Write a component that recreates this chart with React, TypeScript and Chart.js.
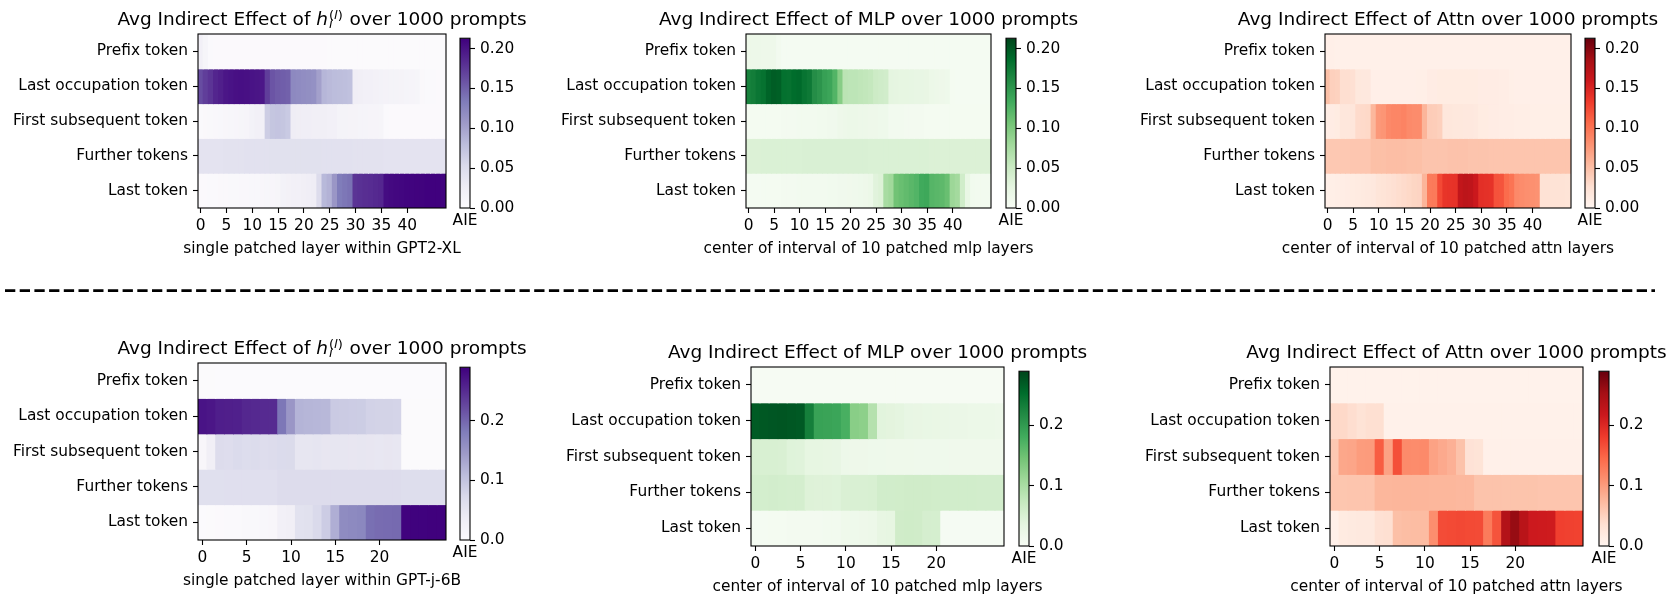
import React, { useEffect, useRef } from "react";
import { Chart, registerables } from "chart.js";

Chart.register(...registerables);

const FONT = "'DejaVu Sans', 'Noto Sans', sans-serif";
const TICK_SIZE = 15.4;
const TITLE_SIZE = 18.5;
Chart.defaults.font.family = FONT;
Chart.defaults.color = "#000";

// ---------------- categories / tick labels ----------------
const ROW_LABELS = ["Prefix token", "Last occupation token", "First subsequent token", "Further tokens", "Last token"];
const ROW_CENTERS = [0.5, 1.5, 2.5, 3.5, 4.5];
const GPT2_LAYERS = [0,1,2,3,4,5,6,7,8,9,10,11,12,13,14,15,16,17,18,19,20,21,22,23,24,25,26,27,28,29,30,31,32,33,34,35,36,37,38,39,40,41,42,43,44,45,46,47];
const GPTJ_LAYERS = [0,1,2,3,4,5,6,7,8,9,10,11,12,13,14,15,16,17,18,19,20,21,22,23,24,25,26,27];
const GPT2_XTICKS = [0, 5, 10, 15, 20, 25, 30, 35, 40];
const GPTJ_XTICKS = [0, 5, 10, 15, 20];
const TOP_CB_TICKS = [0, 0.05, 0.1, 0.15, 0.2];
const BOTTOM_CB_TICKS = [0, 0.1, 0.2];
const TOP_VMAX = 0.213;
const BOTTOM_VMAX = 0.29;

// ---------------- GPT2-XL : hidden states ----------------
const TL_PREFIX = [0.020,0.012,0.004,0.003,0.003,0.003,0.003,0.003,0.003,0.003,0.003,0.003,0.003,0.003,0.003,0.003,0.003,0.003,0.003,0.003,0.003,0.003,0.003,0.003,0.003,0.002,0.002,0.002,0.002,0.002,0.002,0.002,0.002,0.002,0.002,0.002,0.002,0.002,0.002,0.002,0.002,0.002,0.002,0.002,0.002,0.002,0.002,0.002];
const TL_LASTOCC = [0.163,0.172,0.178,0.188,0.192,0.198,0.200,0.202,0.203,0.202,0.200,0.199,0.197,0.172,0.158,0.154,0.152,0.150,0.122,0.120,0.118,0.117,0.115,0.102,0.085,0.082,0.080,0.079,0.078,0.076,0.024,0.022,0.021,0.020,0.019,0.018,0.017,0.016,0.016,0.015,0.014,0.013,0.012,0.005,0.004,0.004,0.003,0.003];
const TL_FIRSTSUB = [0.004,0.005,0.006,0.007,0.008,0.009,0.010,0.011,0.012,0.013,0.018,0.020,0.021,0.065,0.072,0.073,0.072,0.068,0.026,0.025,0.024,0.024,0.023,0.022,0.022,0.021,0.021,0.016,0.016,0.015,0.015,0.014,0.014,0.013,0.013,0.012,0.004,0.003,0.003,0.003,0.003,0.003,0.003,0.003,0.003,0.003,0.003,0.003];
const TL_FURTHER = [0.040,0.040,0.041,0.041,0.041,0.042,0.042,0.042,0.042,0.043,0.043,0.043,0.043,0.043,0.044,0.044,0.044,0.044,0.044,0.044,0.044,0.044,0.044,0.044,0.043,0.043,0.043,0.043,0.043,0.043,0.042,0.042,0.042,0.042,0.042,0.042,0.041,0.041,0.041,0.041,0.041,0.041,0.041,0.041,0.040,0.040,0.040,0.040];
const TL_LAST = [0.003,0.003,0.004,0.004,0.005,0.005,0.006,0.006,0.007,0.007,0.008,0.008,0.009,0.010,0.011,0.012,0.018,0.019,0.020,0.021,0.022,0.024,0.026,0.050,0.083,0.088,0.110,0.133,0.137,0.140,0.178,0.180,0.182,0.183,0.185,0.187,0.205,0.207,0.208,0.209,0.210,0.210,0.211,0.211,0.212,0.212,0.212,0.211];

// ---------------- GPT2-XL : MLP ----------------
const TM_PREFIX = [0.015,0.015,0.015,0.014,0.014,0.014,0.008,0.004,0.004,0.004,0.004,0.004,0.004,0.004,0.004,0.004,0.004,0.004,0.004,0.004,0.004,0.004,0.004,0.004,0.004,0.004,0.004,0.004,0.004,0.004,0.004,0.004,0.004,0.004,0.004,0.004,0.004,0.004,0.004,0.004,0.004,0.004,0.004,0.004,0.004,0.004,0.004,0.004];
const TM_LASTOCC = [0.168,0.172,0.178,0.182,0.192,0.197,0.195,0.183,0.182,0.186,0.188,0.180,0.176,0.158,0.152,0.142,0.138,0.124,0.095,0.062,0.060,0.060,0.058,0.057,0.055,0.048,0.046,0.044,0.026,0.025,0.024,0.024,0.023,0.022,0.022,0.021,0.016,0.015,0.014,0.013,0.005,0.004,0.004,0.004,0.004,0.004,0.004,0.004];
const TM_FIRSTSUB = [0.005,0.005,0.005,0.005,0.005,0.005,0.005,0.006,0.006,0.006,0.007,0.007,0.008,0.008,0.009,0.009,0.010,0.010,0.014,0.015,0.016,0.016,0.015,0.015,0.014,0.014,0.013,0.013,0.008,0.007,0.007,0.006,0.006,0.006,0.006,0.005,0.005,0.005,0.005,0.005,0.005,0.005,0.005,0.005,0.005,0.005,0.005,0.005];
const TM_FURTHER = [0.035,0.035,0.035,0.036,0.036,0.036,0.036,0.036,0.036,0.036,0.036,0.037,0.037,0.037,0.037,0.037,0.037,0.037,0.037,0.037,0.037,0.037,0.037,0.037,0.036,0.036,0.036,0.036,0.036,0.036,0.036,0.036,0.036,0.036,0.036,0.036,0.035,0.035,0.035,0.035,0.035,0.035,0.035,0.035,0.035,0.035,0.035,0.035];
const TM_LAST = [0.004,0.004,0.004,0.005,0.005,0.005,0.005,0.006,0.006,0.006,0.007,0.007,0.007,0.008,0.008,0.008,0.009,0.009,0.010,0.010,0.011,0.012,0.013,0.014,0.016,0.030,0.034,0.075,0.080,0.108,0.112,0.116,0.120,0.124,0.134,0.136,0.122,0.120,0.118,0.112,0.082,0.078,0.045,0.020,0.009,0.008,0.008,0.007];

// ---------------- GPT2-XL : Attn ----------------
const TR_PREFIX = [0.007,0.007,0.006,0.006,0.006,0.006,0.006,0.006,0.006,0.006,0.006,0.006,0.006,0.006,0.006,0.006,0.006,0.006,0.006,0.006,0.006,0.006,0.006,0.006,0.006,0.006,0.006,0.006,0.006,0.006,0.006,0.006,0.006,0.006,0.006,0.006,0.006,0.006,0.006,0.006,0.006,0.006,0.006,0.006,0.006,0.006,0.006,0.006];
const TR_LASTOCC = [0.050,0.038,0.037,0.027,0.027,0.026,0.017,0.016,0.016,0.007,0.007,0.007,0.007,0.007,0.007,0.007,0.007,0.007,0.008,0.008,0.011,0.011,0.012,0.012,0.012,0.012,0.012,0.012,0.012,0.012,0.011,0.011,0.011,0.011,0.010,0.010,0.008,0.007,0.007,0.007,0.007,0.007,0.007,0.007,0.007,0.007,0.007,0.007];
const TR_FIRSTSUB = [0.010,0.011,0.012,0.018,0.018,0.019,0.030,0.031,0.032,0.056,0.076,0.078,0.086,0.088,0.088,0.090,0.085,0.084,0.084,0.057,0.041,0.040,0.038,0.018,0.018,0.017,0.017,0.016,0.016,0.015,0.012,0.012,0.011,0.011,0.010,0.010,0.010,0.009,0.009,0.009,0.008,0.008,0.008,0.008,0.008,0.008,0.008,0.008];
const TR_FURTHER = [0.044,0.044,0.044,0.044,0.044,0.045,0.045,0.045,0.045,0.050,0.050,0.050,0.051,0.051,0.051,0.051,0.050,0.050,0.050,0.047,0.047,0.047,0.047,0.047,0.048,0.048,0.048,0.048,0.047,0.047,0.047,0.047,0.046,0.046,0.046,0.046,0.046,0.046,0.046,0.046,0.046,0.046,0.046,0.046,0.046,0.046,0.046,0.046];
const TR_LAST = [0.007,0.008,0.009,0.010,0.011,0.012,0.013,0.014,0.015,0.016,0.020,0.022,0.024,0.026,0.028,0.030,0.032,0.034,0.035,0.057,0.095,0.096,0.125,0.138,0.139,0.140,0.166,0.170,0.168,0.160,0.142,0.141,0.140,0.120,0.119,0.105,0.100,0.086,0.084,0.082,0.081,0.080,0.024,0.024,0.023,0.023,0.023,0.022];

// ---------------- GPT-j-6B : hidden states ----------------
const BL_PREFIX = [0.003,0.003,0.002,0.002,0.002,0.002,0.002,0.002,0.002,0.002,0.002,0.002,0.002,0.002,0.002,0.002,0.002,0.002,0.002,0.002,0.002,0.002,0.002,0.002,0.002,0.002,0.002,0.002];
const BL_LASTOCC = [0.272,0.270,0.262,0.261,0.260,0.254,0.252,0.251,0.250,0.186,0.150,0.118,0.116,0.115,0.114,0.092,0.091,0.090,0.089,0.082,0.081,0.081,0.080,0.003,0.003,0.003,0.003,0.003];
const BL_FIRSTSUB = [0.012,0.032,0.068,0.066,0.070,0.067,0.069,0.066,0.068,0.070,0.071,0.050,0.050,0.051,0.049,0.050,0.050,0.049,0.050,0.049,0.048,0.049,0.048,0.003,0.003,0.003,0.003,0.003];
const BL_FURTHER = [0.062,0.062,0.062,0.063,0.063,0.063,0.063,0.063,0.063,0.068,0.068,0.068,0.068,0.068,0.068,0.068,0.068,0.068,0.068,0.068,0.068,0.068,0.068,0.065,0.065,0.065,0.065,0.065];
const BL_LAST = [0.002,0.003,0.004,0.005,0.006,0.007,0.008,0.010,0.012,0.028,0.032,0.058,0.060,0.072,0.090,0.124,0.163,0.165,0.168,0.192,0.195,0.196,0.197,0.287,0.288,0.288,0.289,0.289];

// ---------------- GPT-j-6B : MLP ----------------
const BM_PREFIX = [0.003,0.003,0.003,0.003,0.003,0.003,0.003,0.003,0.003,0.003,0.003,0.003,0.003,0.003,0.003,0.003,0.003,0.003,0.003,0.003,0.003,0.003,0.003,0.003,0.003,0.003,0.003,0.003];
const BM_LASTOCC = [0.270,0.272,0.274,0.275,0.273,0.271,0.232,0.192,0.190,0.188,0.176,0.128,0.125,0.090,0.040,0.038,0.036,0.030,0.029,0.028,0.027,0.026,0.025,0.024,0.023,0.022,0.022,0.021];
const BM_FIRSTSUB = [0.053,0.052,0.052,0.051,0.043,0.042,0.033,0.032,0.031,0.030,0.020,0.019,0.019,0.018,0.018,0.017,0.017,0.017,0.016,0.016,0.016,0.016,0.015,0.015,0.015,0.015,0.015,0.015];
const BM_FURTHER = [0.058,0.058,0.059,0.058,0.057,0.057,0.045,0.044,0.044,0.043,0.050,0.051,0.051,0.052,0.060,0.060,0.061,0.062,0.062,0.062,0.061,0.060,0.060,0.060,0.060,0.059,0.059,0.059];
const BM_LAST = [0.006,0.006,0.007,0.007,0.008,0.008,0.009,0.009,0.010,0.010,0.017,0.018,0.019,0.020,0.031,0.033,0.062,0.063,0.062,0.056,0.055,0.004,0.004,0.004,0.004,0.004,0.004,0.004];

// ---------------- GPT-j-6B : Attn ----------------
const BR_PREFIX = [0.006,0.006,0.006,0.006,0.006,0.006,0.006,0.006,0.006,0.006,0.006,0.006,0.006,0.006,0.006,0.006,0.006,0.006,0.006,0.006,0.006,0.006,0.006,0.006,0.006,0.006,0.006,0.006];
const BR_LASTOCC = [0.043,0.043,0.038,0.031,0.036,0.036,0.007,0.007,0.007,0.007,0.007,0.007,0.007,0.007,0.007,0.007,0.007,0.007,0.007,0.007,0.007,0.007,0.007,0.007,0.007,0.007,0.007,0.007];
const BR_FIRSTSUB = [0.060,0.090,0.092,0.100,0.101,0.155,0.095,0.165,0.115,0.114,0.116,0.095,0.088,0.082,0.066,0.032,0.030,0.008,0.008,0.008,0.008,0.008,0.008,0.008,0.008,0.008,0.008,0.008];
const BR_FURTHER = [0.062,0.062,0.063,0.063,0.063,0.076,0.076,0.077,0.077,0.077,0.077,0.076,0.076,0.076,0.075,0.075,0.065,0.065,0.065,0.064,0.064,0.064,0.064,0.063,0.063,0.063,0.063,0.063];
const BR_LAST = [0.008,0.018,0.019,0.020,0.021,0.034,0.036,0.068,0.070,0.071,0.072,0.112,0.168,0.170,0.171,0.170,0.169,0.130,0.162,0.240,0.262,0.235,0.216,0.215,0.214,0.178,0.177,0.176];

// ---------------- colormaps (matplotlib Purples / Greens / Reds) ----------------
const PURPLES = ["#fcfbfd", "#efedf5", "#dadaeb", "#bcbddc", "#9e9ac8", "#807dba", "#6a51a3", "#54278f", "#3f007d"];
const GREENS = ["#f7fcf5", "#e5f5e0", "#c7e9c0", "#a1d99b", "#74c476", "#41ab5d", "#238b45", "#006d2c", "#00441b"];
const REDS = ["#fff5f0", "#fee0d2", "#fcbba1", "#fc9272", "#fb6a4a", "#ef3b2c", "#cb181d", "#a50f15", "#67000d"];

function hexToRgb(h: string): number[] {
  return [parseInt(h.slice(1, 3), 16), parseInt(h.slice(3, 5), 16), parseInt(h.slice(5, 7), 16)];
}
function colorAt(stops: string[], v: number, vmax: number): string {
  const t = Math.max(0, Math.min(1, v / vmax)) * (stops.length - 1);
  const i = Math.min(Math.floor(t), stops.length - 2);
  const f = t - i;
  const a = hexToRgb(stops[i]);
  const b = hexToRgb(stops[i + 1]);
  const c = a.map((x, k) => Math.round(x + (b[k] - x) * f));
  return `rgb(${c[0]},${c[1]},${c[2]})`;
}

// ---------------- titles ----------------
type Seg = { text: string; italic?: boolean; scale?: number; dy?: number; advance?: boolean; gap?: number };
const H_TITLE: Seg[] = [
  { text: "Avg Indirect Effect of " },
  { text: "h", italic: true, gap: 1 },
  { text: "i", italic: true, scale: 0.7, dy: 3.5, advance: false },
  { text: "(", scale: 0.7, dy: -6 },
  { text: "l", italic: true, scale: 0.7, dy: -6 },
  { text: ")", scale: 0.7, dy: -6, gap: 1 },
  { text: " over 1000 prompts" },
];
const MLP_TITLE: Seg[] = [{ text: "Avg Indirect Effect of MLP over 1000 prompts" }];
const ATTN_TITLE: Seg[] = [{ text: "Avg Indirect Effect of Attn over 1000 prompts" }];

function makeTitlePlugin(segs: Seg[]) {
  return {
    id: "mplTitle",
    afterDraw(chart: any) {
      const ctx = chart.ctx;
      const a = chart.chartArea;
      ctx.save();
      const fontFor = (s: Seg) => `${s.italic ? "italic " : ""}${(s.scale || 1) * TITLE_SIZE}px ${FONT}`;
      const widths = segs.map((s) => {
        ctx.font = fontFor(s);
        return ctx.measureText(s.text).width;
      });
      let total = 0;
      segs.forEach((s, i) => {
        if (s.advance !== false) total += widths[i] + (s.gap || 0);
      });
      let x = (a.left + a.right) / 2 - total / 2;
      const baseY = a.top - 9.5;
      ctx.fillStyle = "#000";
      ctx.textAlign = "left";
      ctx.textBaseline = "alphabetic";
      segs.forEach((s, i) => {
        ctx.font = fontFor(s);
        ctx.fillText(s.text, x, baseY + (s.dy || 0));
        if (s.advance !== false) x += widths[i] + (s.gap || 0);
      });
      ctx.restore();
    },
  };
}

// axis label drawn centred under the plot area, without width squeezing
function makeBottomLabelPlugin(text: string, dy: number) {
  return {
    id: "bottomLabel",
    afterDraw(chart: any) {
      const ctx = chart.ctx;
      const a = chart.chartArea;
      ctx.save();
      ctx.font = `${TICK_SIZE}px ${FONT}`;
      ctx.fillStyle = "#000";
      ctx.textAlign = "center";
      ctx.textBaseline = "middle";
      ctx.fillText(text, (a.left + a.right) / 2, a.bottom + dy);
      ctx.restore();
    },
  };
}

const framePlugin = {
  id: "frame",
  afterDraw(chart: any) {
    const { ctx, chartArea: a } = chart;
    ctx.save();
    ctx.strokeStyle = "#000";
    ctx.lineWidth = 1.1;
    ctx.strokeRect(a.left, a.top, a.right - a.left, a.bottom - a.top);
    ctx.restore();
  },
};

// ---------------- panels ----------------
type Panel = {
  rows: number[][];
  layers: number[];
  xticks: number[];
  cmap: string[];
  vmax: number;
  title: Seg[];
  xTitle: string;
  ax: number[];
  cb: number[];
  cbTicks: number[];
  cbDec: number;
};

const PANELS: Panel[] = [
  { rows: [TL_PREFIX, TL_LASTOCC, TL_FIRSTSUB, TL_FURTHER, TL_LAST], layers: GPT2_LAYERS, xticks: GPT2_XTICKS, cmap: PURPLES, vmax: TOP_VMAX, title: H_TITLE, xTitle: "single patched layer within GPT2-XL", ax: [198, 34, 446, 208], cb: [460, 470], cbTicks: TOP_CB_TICKS, cbDec: 2 },
  { rows: [TM_PREFIX, TM_LASTOCC, TM_FIRSTSUB, TM_FURTHER, TM_LAST], layers: GPT2_LAYERS, xticks: GPT2_XTICKS, cmap: GREENS, vmax: TOP_VMAX, title: MLP_TITLE, xTitle: "center of interval of 10 patched mlp layers", ax: [746, 34, 991, 208], cb: [1006, 1016], cbTicks: TOP_CB_TICKS, cbDec: 2 },
  { rows: [TR_PREFIX, TR_LASTOCC, TR_FIRSTSUB, TR_FURTHER, TR_LAST], layers: GPT2_LAYERS, xticks: GPT2_XTICKS, cmap: REDS, vmax: TOP_VMAX, title: ATTN_TITLE, xTitle: "center of interval of 10 patched attn layers", ax: [1325, 34, 1571, 208], cb: [1585, 1595], cbTicks: TOP_CB_TICKS, cbDec: 2 },
  { rows: [BL_PREFIX, BL_LASTOCC, BL_FIRSTSUB, BL_FURTHER, BL_LAST], layers: GPTJ_LAYERS, xticks: GPTJ_XTICKS, cmap: PURPLES, vmax: BOTTOM_VMAX, title: H_TITLE, xTitle: "single patched layer within GPT-j-6B", ax: [198, 363, 446, 540], cb: [460, 470], cbTicks: BOTTOM_CB_TICKS, cbDec: 1 },
  { rows: [BM_PREFIX, BM_LASTOCC, BM_FIRSTSUB, BM_FURTHER, BM_LAST], layers: GPTJ_LAYERS, xticks: GPTJ_XTICKS, cmap: GREENS, vmax: BOTTOM_VMAX, title: MLP_TITLE, xTitle: "center of interval of 10 patched mlp layers", ax: [751, 367, 1004, 546], cb: [1019, 1029], cbTicks: BOTTOM_CB_TICKS, cbDec: 1 },
  { rows: [BR_PREFIX, BR_LASTOCC, BR_FIRSTSUB, BR_FURTHER, BR_LAST], layers: GPTJ_LAYERS, xticks: GPTJ_XTICKS, cmap: REDS, vmax: BOTTOM_VMAX, title: ATTN_TITLE, xTitle: "center of interval of 10 patched attn layers", ax: [1330, 367, 1583, 546], cb: [1599, 1609], cbTicks: BOTTOM_CB_TICKS, cbDec: 1 },
];

const Y_AXIS_W = 195;
const PAD_TOP = 34;
const X_AXIS_H = 55;
const X_TITLE_DY = 41.3;
const CB_PAD_L = 14;
const CB_PAD_R = 60;
const CB_PAD_T = 10;
const CB_X_H = 30;
const AIE_DY = 13;

function Heatmap({ p }: { p: Panel }) {
  const ref = useRef<HTMLCanvasElement | null>(null);
  const [x0, y0, x1, y1] = p.ax;
  const padR = Math.min(105, 1680 - x1);
  const W = Y_AXIS_W + (x1 - x0) + padR;
  const H = PAD_TOP + (y1 - y0) + X_AXIS_H;
  useEffect(() => {
    const font = { family: FONT, size: TICK_SIZE };
    const n = p.rows.length;
    const datasets = p.rows.map((vals, r) => {
      const yb = n - 1 - r;
      return {
        data: vals.map((v, i) => ({ x: p.layers[i], y: [yb, yb + 1], v })),
        backgroundColor: (c: any) => colorAt(p.cmap, c.raw ? c.raw.v : 0, p.vmax),
        borderWidth: 0,
        barPercentage: 1,
        categoryPercentage: 1,
        grouped: false,
        inflateAmount: 0.5,
      };
    });
    const tickGrid = { display: true, drawOnChartArea: false, drawTicks: true, tickLength: 5, tickWidth: 1.1, tickColor: "#000", offset: false };
    const chart = new Chart(ref.current as HTMLCanvasElement, {
      type: "bar",
      data: { labels: p.layers, datasets: datasets as any },
      options: {
        animation: false,
        responsive: false,
        events: [],
        layout: { padding: { top: PAD_TOP, right: padR, left: 0, bottom: 0 } },
        plugins: { legend: { display: false }, tooltip: { enabled: false } },
        scales: {
          x: {
            type: "category",
            offset: true,
            grid: tickGrid,
            border: { display: false },
            ticks: { autoSkip: false, maxRotation: 0, minRotation: 0, padding: 4, color: "#000", font },
            afterBuildTicks: (s: any) => {
              s.ticks = s.ticks.filter((t: any) => p.xticks.includes(t.value));
            },
            afterFit: (s: any) => {
              s.height = X_AXIS_H;
            },
          },
          y: {
            type: "linear",
            min: 0,
            max: n,
            bounds: "data",
            afterBuildTicks: (s: any) => {
              s.ticks = ROW_CENTERS.map((value) => ({ value }));
            },
            ticks: { autoSkip: false, padding: 5, color: "#000", font, callback: (v: any) => ROW_LABELS[n - 1 - Math.floor(Number(v))] },
            grid: tickGrid,
            border: { display: false },
            afterFit: (s: any) => {
              s.width = Y_AXIS_W;
            },
          },
        },
      } as any,
      plugins: [makeTitlePlugin(p.title), makeBottomLabelPlugin(p.xTitle, X_TITLE_DY), framePlugin],
    });
    return () => chart.destroy();
  }, []);
  return <canvas ref={ref} width={W} height={H} style={{ position: "absolute", left: x0 - Y_AXIS_W, top: y0 - PAD_TOP, width: W, height: H }} />;
}

function Colorbar({ p }: { p: Panel }) {
  const ref = useRef<HTMLCanvasElement | null>(null);
  const [, y0, , y1] = p.ax;
  const [c0, c1] = p.cb;
  const W = CB_PAD_L + (c1 - c0) + CB_PAD_R;
  const H = CB_PAD_T + (y1 - y0) + CB_X_H;
  useEffect(() => {
    const font = { family: FONT, size: TICK_SIZE };
    const chart = new Chart(ref.current as HTMLCanvasElement, {
      type: "bar",
      data: {
        labels: ["AIE"],
        datasets: [
          {
            data: [[0, p.vmax]],
            backgroundColor: (c: any) => {
              const ch = c.chart;
              const a = ch.chartArea;
              if (!a) return p.cmap[0];
              const g = ch.ctx.createLinearGradient(0, a.bottom, 0, a.top);
              p.cmap.forEach((s, i) => g.addColorStop(i / (p.cmap.length - 1), s));
              return g;
            },
            borderWidth: 0,
            barPercentage: 1,
            categoryPercentage: 1,
            inflateAmount: 0,
          } as any,
        ],
      },
      options: {
        animation: false,
        responsive: false,
        events: [],
        layout: { padding: { top: CB_PAD_T, left: CB_PAD_L, right: 0, bottom: 0 } },
        plugins: { legend: { display: false }, tooltip: { enabled: false } },
        scales: {
          x: {
            type: "category",
            offset: true,
            ticks: { display: false },
            grid: { display: false },
            border: { display: false },
            afterFit: (s: any) => {
              s.height = CB_X_H;
            },
          },
          y: {
            type: "linear",
            position: "right",
            min: 0,
            max: p.vmax,
            bounds: "data",
            afterBuildTicks: (s: any) => {
              s.ticks = p.cbTicks.map((value) => ({ value }));
            },
            ticks: { padding: 5, color: "#000", font, callback: (v: any) => Number(v).toFixed(p.cbDec) },
            grid: { display: true, drawOnChartArea: false, drawTicks: true, tickLength: 5, tickWidth: 1.1, tickColor: "#000" },
            border: { display: false },
            afterFit: (s: any) => {
              s.width = CB_PAD_R;
            },
          },
        },
      } as any,
      plugins: [makeBottomLabelPlugin("AIE", AIE_DY), framePlugin],
    });
    return () => chart.destroy();
  }, []);
  return <canvas ref={ref} width={W} height={H} style={{ position: "absolute", left: c0 - CB_PAD_L, top: y0 - CB_PAD_T, width: W, height: H }} />;
}

export default function App() {
  return (
    <div style={{ position: "absolute", left: 0, top: 0, width: 1680, height: 597, overflow: "hidden", background: "#fff" }}>
      {PANELS.map((p, i) => (
        <Heatmap key={"h" + i} p={p} />
      ))}
      {PANELS.map((p, i) => (
        <Colorbar key={"c" + i} p={p} />
      ))}
      <svg width={1680} height={597} style={{ position: "absolute", left: 0, top: 0, pointerEvents: "none" }}>
        <line x1={5} y1={290.7} x2={1655} y2={290.7} stroke="#000" strokeWidth={2.8} strokeDasharray="10.3 4.4" />
      </svg>
    </div>
  );
}
